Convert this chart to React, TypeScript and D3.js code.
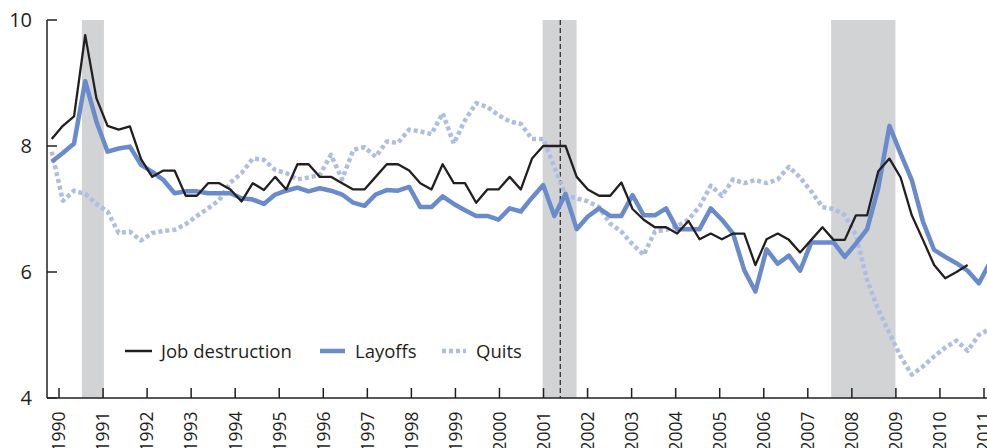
import React from "react";
import * as d3 from "d3";

const years = d3.range(1990, 2012);
const yTicks = [4, 6, 8, 10];

const jobDestruction = [
  8.11, 8.32, 8.47, 9.76, 8.76, 8.32, 8.26, 8.31, 7.79, 7.51, 7.61, 7.61, 7.21, 7.21, 7.41, 7.41,
  7.31, 7.12, 7.41, 7.30, 7.51, 7.31, 7.71, 7.71, 7.51, 7.51, 7.41, 7.31, 7.31, 7.51, 7.71, 7.71,
  7.61, 7.41, 7.31, 7.71, 7.41, 7.41, 7.10, 7.31, 7.31, 7.51, 7.31, 7.80, 8.0, 8.0, 8.0, 7.51,
  7.31, 7.21, 7.21, 7.42, 7.0, 6.83, 6.71, 6.71, 6.61, 6.81, 6.52, 6.61, 6.52, 6.61, 6.61, 6.11,
  6.52, 6.61, 6.51, 6.31, 6.51, 6.71, 6.51, 6.51, 6.90, 6.90, 7.60, 7.80, 7.50, 6.90, 6.51, 6.11,
  5.90, 6.0, 6.11,
];

const layoffs = [
  7.75, 7.89, 8.04, 9.03, 8.39, 7.91, 7.96, 7.99, 7.70, 7.59, 7.46, 7.25, 7.28, 7.28, 7.25, 7.25,
  7.25, 7.17, 7.15, 7.08, 7.23, 7.29, 7.34, 7.28, 7.33, 7.29, 7.23, 7.10, 7.05, 7.23, 7.30, 7.29,
  7.35, 7.03, 7.03, 7.20, 7.08, 6.98, 6.89, 6.89, 6.83, 7.01, 6.96, 7.18, 7.38, 6.89, 7.24, 6.68,
  6.88, 7.01, 6.89, 6.89, 7.22, 6.90, 6.90, 7.01, 6.68, 6.68, 6.68, 7.01, 6.83, 6.61, 6.03, 5.69,
  6.36, 6.13, 6.26, 6.02, 6.47, 6.47, 6.47, 6.24, 6.45, 6.68, 7.33, 8.32, 7.88, 7.46, 6.80, 6.35,
  6.24, 6.14, 6.02, 5.82, 6.15,
];

const quits = [
  7.91, 7.13, 7.29, 7.24, 7.08, 6.96, 6.62, 6.64, 6.50, 6.62, 6.65, 6.67, 6.76, 6.89, 7.01, 7.14,
  7.42, 7.57, 7.80, 7.78, 7.62, 7.57, 7.47, 7.50, 7.54, 7.86, 7.47, 7.94, 7.98, 7.83, 8.07, 8.05,
  8.26, 8.23, 8.19, 8.52, 8.04, 8.41, 8.68, 8.62, 8.49, 8.39, 8.35, 8.11, 8.11, 7.67, 7.22, 7.17,
  7.12, 7.03, 6.77, 6.64, 6.44, 6.27, 6.64, 6.67, 6.73, 6.83, 7.04, 7.37, 7.21, 7.47, 7.41, 7.46,
  7.41, 7.47, 7.67, 7.50, 7.28, 7.03, 7.00, 6.90, 6.59, 5.87, 5.40, 5.03, 4.66, 4.37, 4.50, 4.66,
  4.80, 4.91, 4.75, 5.00, 5.10,
];

// recession periods (in years)
const recessions = [
  [1990.52, 1991.02],
  [2000.98, 2001.75],
  [2007.53, 2008.99],
];
const markerYear = [2001.38];

const seriesNames = ["Job destruction", "Layoffs", "Quits"];

const W = 987;
const H = 448;
const left = 47;
const top = 20;
const bottom = 398;
const right = 987;

const FONT = "'Open Sans', 'DejaVu Sans', sans-serif";
const INK = "#231f20";
const BLUE = "#6a8bcb";
const QBLUE = "#aebde3";
const BAND = "#d1d3d5";

export default function App() {
  const y = d3.scaleLinear().domain([4, 10]).range([bottom, top]);
  const xYear = d3.scaleLinear().domain([1990, 2011]).range([59, 984]);
  const xQ = d3.scaleLinear().domain([0, 84]).range([51.7, 51.7 + 84 * 11.17]);

  const line = d3
    .line<number>()
    .x((_, i) => xQ(i))
    .y((d) => y(d));

  const legendItems = [
    { name: seriesNames[0], x1: 125, x2: 152, tx: 161, color: INK, w: 2.5, dash: undefined },
    { name: seriesNames[1], x1: 320, x2: 345, tx: 355, color: BLUE, w: 4.5, dash: undefined },
    { name: seriesNames[2], x1: 442, x2: 466, tx: 476, color: QBLUE, w: 4.5, dash: "4,3" },
  ];

  return (
    <svg
      width={W}
      height={H}
      style={{ position: "absolute", left: 0, top: 0, background: "#fff" }}
      fontFamily={FONT}
    >
      <defs>
        <clipPath id="plot">
          <rect x={left} y={top - 5} width={right - left} height={bottom - top + 5} />
        </clipPath>
      </defs>
      {recessions.map(([a, b], i) => (
        <rect key={i} x={xYear(a)} y={top} width={xYear(b) - xYear(a)} height={bottom - top} fill={BAND} />
      ))}
      {markerYear.map((m, i) => (
        <line
          key={i}
          x1={xYear(m)}
          x2={xYear(m)}
          y1={top}
          y2={bottom}
          stroke={INK}
          strokeWidth={1.2}
          strokeDasharray="5,3"
        />
      ))}
      <g clipPath="url(#plot)" fill="none" strokeLinejoin="round">
        <path d={line(quits) || ""} stroke={QBLUE} strokeWidth={4.5} strokeDasharray="4,3" />
        <path d={line(layoffs) || ""} stroke={BLUE} strokeWidth={4.5} />
        <path d={line(jobDestruction) || ""} stroke={INK} strokeWidth={2.3} />
      </g>
      {/* axes */}
      <line x1={left} x2={left} y1={top} y2={bottom} stroke={INK} strokeWidth={1.5} />
      <line x1={left} x2={right} y1={bottom} y2={bottom} stroke={INK} strokeWidth={1.5} />
      {yTicks.map((t) => (
        <g key={t}>
          <line x1={left} x2={left + 10} y1={y(t)} y2={y(t)} stroke={INK} strokeWidth={1.5} />
          <text x={32} y={y(t)} dy="0.36em" textAnchor="end" fontSize={20} fill={INK}>
            {t}
          </text>
        </g>
      ))}
      {years.map((yr) => (
        <g key={yr}>
          <line x1={xYear(yr)} x2={xYear(yr)} y1={bottom} y2={bottom - 10} stroke={INK} strokeWidth={1.5} />
          <text
            transform={`translate(${xYear(yr)},${411.5}) rotate(-90)`}
            dy="0.36em"
            textAnchor="end"
            fontSize={17.5}
            fill={INK}
          >
            {yr}
          </text>
        </g>
      ))}
      {legendItems.map((l) => (
        <g key={l.name}>
          <line x1={l.x1} x2={l.x2} y1={351} y2={351} stroke={l.color} strokeWidth={l.w} strokeDasharray={l.dash} />
          <text x={l.tx} y={351} dy="0.36em" fontSize={18.5} fill={INK}>
            {l.name}
          </text>
        </g>
      ))}
    </svg>
  );
}
